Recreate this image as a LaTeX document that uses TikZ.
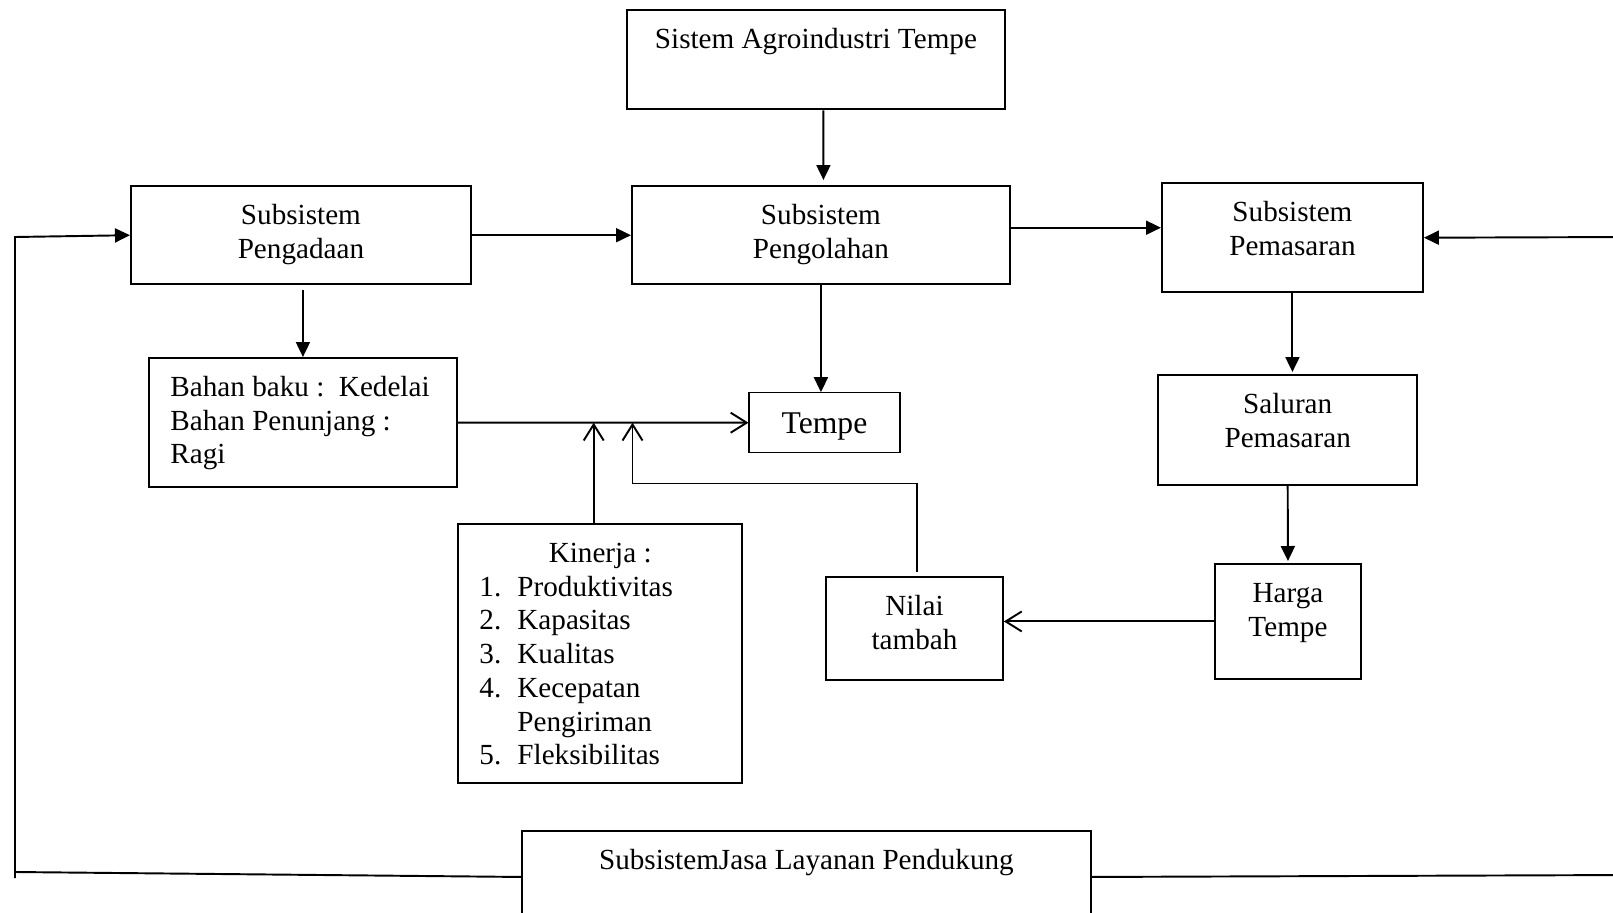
\documentclass[tikz,border=0pt]{standalone}
\usepackage{fontspec}
\setmainfont{Liberation Serif}
\usepackage{tikz}
\usetikzlibrary{arrows.meta}
\newcommand{\boxfont}{\fontsize{16.6pt}{19.2pt}\selectfont\frenchspacing}
\newcommand{\knum}[1]{\makebox[0.76cm][l]{#1}}

\begin{document}
\begin{tikzpicture}[-,x=0.02cm,y=-0.02cm,line width=1.1pt,
                    box node/.style={draw,inner sep=0pt,anchor=north west,align=flush center,font=\boxfont,text height=0.77cm},
                    fill arrow/.style={-{Triangle[length=0.3cm,width=0.28cm]}},
                    open arrow/.style={-{Straight Barb[length=0.32cm,width=0.4cm]}}]

  \useasboundingbox (0,0) rectangle (1613,913);

  \node[box node,text width=7.56cm,text depth=1.22cm] (1) at (626,9) {Sistem Agroindustri Tempe};
  \node[box node,text width=6.8cm,text depth=1.2cm] (2) at (130,185) {Subsistem\\Pengadaan};
  \node[box node,text width=7.56cm,text depth=1.2cm] (3) at (631,185) {Subsistem\\Pengolahan};
  \node[box node,text width=5.22cm,text depth=1.42cm] (4) at (1161,182) {Subsistem\\Pemasaran};
  \node[box node,align=flush left,inner xsep=0.43cm,text width=5.3cm,text depth=1.82cm] (5) at (148,357)
    {\mbox{Bahan baku :~ Kedelai}\\\mbox{Bahan Penunjang :}\\Ragi};
  \node[draw,line width=0.6pt,minimum width=3.02cm,minimum height=1.2cm,text height=0.6cm,text depth=0.17cm,
        font=\fontsize{18pt}{20pt}\selectfont] (6) at (824.5,422.7) {Tempe};
  \node[box node,text width=5.19cm,text depth=1.43cm] (7) at (1157,374) {Saluran\\Pemasaran};
  \node[box node,align=flush left,inner xsep=0.43cm,text width=4.83cm,text depth=4.41cm] (8) at (457,523)
    {\hfill Kinerja :\hfill\null\\
     \knum{1.}Produktivitas\\
     \knum{2.}Kapasitas\\
     \knum{3.}Kualitas\\
     \knum{4.}Kecepatan\\
     \knum{}Pengiriman\\
     \knum{5.}Fleksibilitas};
  \node[box node,text width=3.54cm,text depth=1.29cm] (9) at (825,576) {Nilai\\tambah};
  \node[box node,text width=2.92cm,text depth=1.53cm] (10) at (1214,563) {Harga\\Tempe};
  \node[box node,text width=11.38cm,text depth=1.07cm] (11) at (521,830) {SubsistemJasa Layanan Pendukung};

  % bends and free ends
  \coordinate (12) at ([xshift=0.06cm,yshift=0.08cm]9.north);
  \coordinate (13) at (632.5,483.5);
  \coordinate (14) at ([xshift=-0.13cm]8.north);
  \coordinate (15) at (15,878);
  \coordinate (16) at (15,237);
  \coordinate (17) at (15,872);
  \coordinate (18) at (1630,875);
  \coordinate (19) at (1630,237);
  \coordinate (20) at ([yshift=0.2cm]4.west);

  \path
    ([xshift=0.15cm]1.south) edge[fill arrow,shorten >=0.1cm] ([xshift=0.05cm]3.north)
    (2.east) edge[fill arrow] (3.west)
    (3.east |- 20) edge[fill arrow] (20)
    (5.north |- 2.south) edge[fill arrow,shorten <=0.1cm] (5.north)
    (3.south) edge[fill arrow] (3.south |- 6.north)
    (4.south) edge[fill arrow,shorten >=0.04cm] (4.south |- 7.north)
    (7.south) edge[fill arrow,shorten >=0.04cm] (10.north)
    (5.east) edge[open arrow] (6.west)
    (14) edge[open arrow] (14 |- 6.west)
    (10.west) edge[open arrow] (10.west -| 9.east);

  \draw[open arrow] (12) |- (13) -- (13 |- 6.west);
  \draw (11.west) -- (17);
  \draw[fill arrow] (15) -- (16) -- (2.west);
  \draw[fill arrow] (11.east) -- (18) -- (19) -- (4.east);

\end{tikzpicture}
\end{document}
